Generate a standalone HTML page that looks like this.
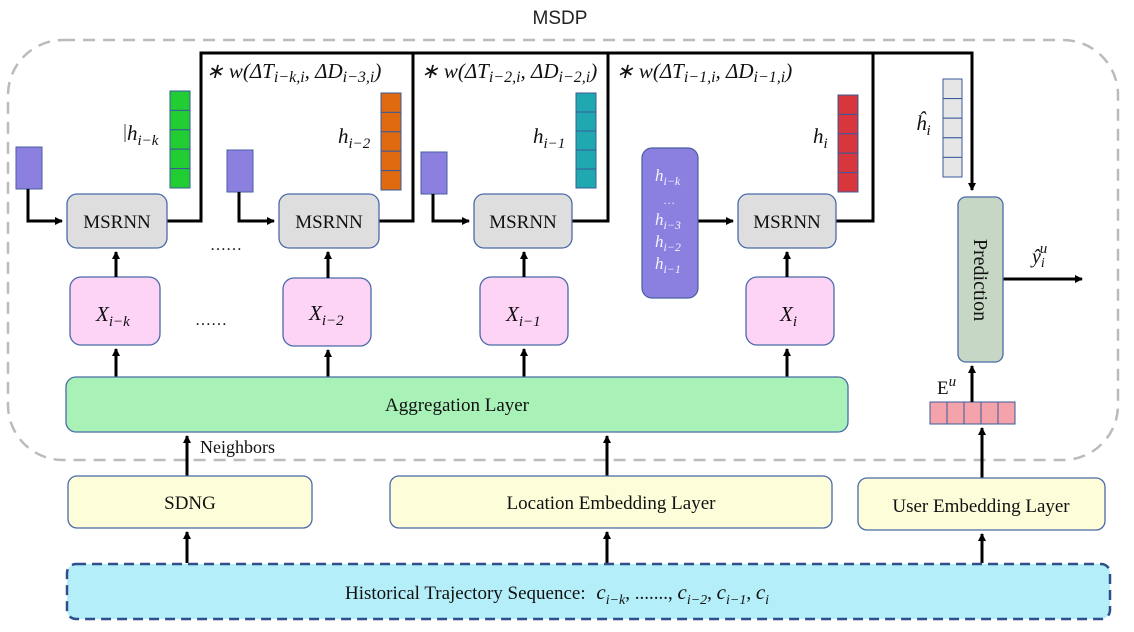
<!DOCTYPE html>
<html><head><meta charset="utf-8"><style>
html,body{margin:0;padding:0;background:#fff;}
svg{display:block;}
.t{font-family:"Liberation Serif",serif;fill:#111;}
.m{font-family:"Liberation Serif",serif;font-style:italic;fill:#111;}
.s{font-family:"Liberation Sans",sans-serif;fill:#222;}
</style></head><body>
<svg width="1134" height="632" viewBox="0 0 1134 632" xmlns="http://www.w3.org/2000/svg">
<defs>
<marker id="a" markerWidth="8" markerHeight="8" refX="7" refY="4" orient="auto" markerUnits="userSpaceOnUse"><path d="M0,0 L8,4 L0,8 z" fill="#000"/></marker>
</defs>
<rect x="8" y="40" width="1110" height="420" rx="55" fill="none" stroke="#bbb" stroke-width="2.5" stroke-dasharray="12,8"/>
<text x="560" y="24" class="s" font-size="19" text-anchor="middle">MSDP</text>

<g fill="none" stroke="#000" stroke-width="3">
<polyline points="167,221 201,221 201,53 413,53 413,221 379,221"/>
<polyline points="413,53 608,53 608,221 572,221"/>
<polyline points="608,53 873,53 873,221 836,221"/>
<polyline points="873,53 972,53 972,190" marker-end="url(#a)"/>
</g>
<text x="206" y="78" class="m" font-size="21">∗ w(ΔT<tspan font-size="16" dy="4">i−k,i</tspan><tspan dy="-4">, ΔD</tspan><tspan font-size="16" dy="4">i−3,i</tspan><tspan dy="-4">)</tspan></text>
<text x="421" y="78" class="m" font-size="21">∗ w(ΔT<tspan font-size="16" dy="4">i−2,i</tspan><tspan dy="-4">, ΔD</tspan><tspan font-size="16" dy="4">i−2,i</tspan><tspan dy="-4">)</tspan></text>
<text x="616" y="78" class="m" font-size="21">∗ w(ΔT<tspan font-size="16" dy="4">i−1,i</tspan><tspan dy="-4">, ΔD</tspan><tspan font-size="16" dy="4">i−1,i</tspan><tspan dy="-4">)</tspan></text>

<g fill="#8b7fe0" stroke="#4a5fa0" stroke-width="1">
<rect x="16" y="147" width="26" height="42"/>
<rect x="227" y="150" width="26" height="42"/>
<rect x="421" y="152" width="26" height="42"/>
</g>
<g fill="none" stroke="#000" stroke-width="3">
<polyline points="28,189 28,221 62,221" marker-end="url(#a)"/>
<polyline points="239,192 239,221 274,221" marker-end="url(#a)"/>
<polyline points="433,194 433,221 469,221" marker-end="url(#a)"/>
<line x1="698" y1="221" x2="733" y2="221" marker-end="url(#a)"/>
</g>

<g stroke="#3a5a9a" stroke-width="1">
<g fill="#22cc33"><rect x="170" y="91" width="20" height="19.4"/><rect x="170" y="110.4" width="20" height="19.4"/><rect x="170" y="129.8" width="20" height="19.4"/><rect x="170" y="149.2" width="20" height="19.4"/><rect x="170" y="168.6" width="20" height="19.4"/></g>
<g fill="#e06a10"><rect x="381" y="93" width="20" height="19.4"/><rect x="381" y="112.4" width="20" height="19.4"/><rect x="381" y="131.8" width="20" height="19.4"/><rect x="381" y="151.2" width="20" height="19.4"/><rect x="381" y="170.6" width="20" height="19.4"/></g>
<g fill="#20a8b0"><rect x="576" y="93" width="20" height="19"/><rect x="576" y="112" width="20" height="19"/><rect x="576" y="131" width="20" height="19"/><rect x="576" y="150" width="20" height="19"/><rect x="576" y="169" width="20" height="19"/></g>
<g fill="#d6363c"><rect x="838" y="95" width="20" height="19.4"/><rect x="838" y="114.4" width="20" height="19.4"/><rect x="838" y="133.8" width="20" height="19.4"/><rect x="838" y="153.2" width="20" height="19.4"/><rect x="838" y="172.6" width="20" height="19.4"/></g>
<g fill="#e6e6e6"><rect x="943" y="79" width="19" height="19.6"/><rect x="943" y="98.6" width="19" height="19.6"/><rect x="943" y="118.2" width="19" height="19.6"/><rect x="943" y="137.8" width="19" height="19.6"/><rect x="943" y="157.4" width="19" height="19.6"/></g>
<g fill="#f5a3aa"><rect x="930" y="402" width="17" height="22"/><rect x="947" y="402" width="17" height="22"/><rect x="964" y="402" width="17" height="22"/><rect x="981" y="402" width="17" height="22"/><rect x="998" y="402" width="17" height="22"/></g>
</g>
<line x1="125" y1="124" x2="125" y2="142" stroke="#444" stroke-width="1"/>
<text x="127" y="140" class="m" font-size="21">h<tspan font-size="15" dy="5">i−k</tspan></text>
<text x="338" y="143" class="m" font-size="21">h<tspan font-size="15" dy="5">i−2</tspan></text>
<text x="533" y="143" class="m" font-size="21">h<tspan font-size="15" dy="5">i−1</tspan></text>
<text x="813" y="143" class="m" font-size="21">h<tspan font-size="15" dy="5">i</tspan></text>
<text x="916" y="130" class="m" font-size="21">ĥ<tspan font-size="15" dy="5">i</tspan></text>

<g fill="#dedede" stroke="#4a6aa8" stroke-width="1.3">
<rect x="67" y="194" width="100" height="54" rx="10"/>
<rect x="279" y="194" width="100" height="54" rx="10"/>
<rect x="474" y="194" width="98" height="54" rx="10"/>
<rect x="738" y="194" width="98" height="54" rx="10"/>
</g>
<g class="t" font-size="19" text-anchor="middle">
<text x="117" y="228">MSRNN</text><text x="329" y="228">MSRNN</text><text x="523" y="228">MSRNN</text><text x="787" y="228">MSRNN</text>
</g>
<text x="210" y="250" class="t" font-size="16">……</text>
<text x="195" y="325" class="t" font-size="16">……</text>

<rect x="642" y="148" width="56" height="150" rx="10" fill="#8b7fe0" stroke="#4a5fa0" stroke-width="1.2"/>
<g class="m" font-size="17">
<text x="655" y="181" style="fill:#f4f4ff">h<tspan font-size="12" dy="4">i−k</tspan></text>
<text x="664" y="204" style="fill:#f4f4ff" font-size="12">…</text>
<text x="655" y="225" style="fill:#f4f4ff">h<tspan font-size="12" dy="4">i−3</tspan></text>
<text x="655" y="247" style="fill:#f4f4ff">h<tspan font-size="12" dy="4">i−2</tspan></text>
<text x="655" y="269" style="fill:#f4f4ff">h<tspan font-size="12" dy="4">i−1</tspan></text>
</g>

<g fill="#fdd3f6" stroke="#4a6aa8" stroke-width="1.3">
<rect x="70" y="277" width="90" height="68" rx="11"/>
<rect x="283" y="278" width="88" height="68" rx="11"/>
<rect x="480" y="277" width="88" height="68" rx="11"/>
<rect x="746" y="277" width="88" height="68" rx="11"/>
</g>
<g class="m" font-size="21">
<text x="96" y="321">X<tspan font-size="15" dy="5">i−k</tspan></text>
<text x="309" y="320">X<tspan font-size="15" dy="5">i−2</tspan></text>
<text x="506" y="321">X<tspan font-size="15" dy="5">i−1</tspan></text>
<text x="780" y="321">X<tspan font-size="15" dy="5">i</tspan></text>
</g>

<g stroke="#000" stroke-width="3" marker-end="url(#a)">
<line x1="116" y1="277" x2="116" y2="252"/><line x1="328" y1="278" x2="328" y2="252"/><line x1="524" y1="277" x2="524" y2="252"/><line x1="787" y1="277" x2="787" y2="252"/>
<line x1="116" y1="377" x2="116" y2="349"/><line x1="328" y1="377" x2="328" y2="350"/><line x1="524" y1="377" x2="524" y2="349"/><line x1="787" y1="377" x2="787" y2="349"/>
<line x1="187" y1="476" x2="187" y2="436"/><line x1="607" y1="476" x2="607" y2="436"/>
<line x1="187" y1="563" x2="187" y2="532"/><line x1="607" y1="563" x2="607" y2="532"/><line x1="982" y1="563" x2="982" y2="534"/>
<line x1="982" y1="478" x2="982" y2="428"/>
<line x1="972" y1="402" x2="972" y2="366"/>
<line x1="1003" y1="279" x2="1082" y2="279"/>
</g>

<rect x="66" y="377" width="782" height="55" rx="10" fill="#a8f2b8" stroke="#4a6aa8" stroke-width="1.3"/>
<text x="457" y="411" class="t" font-size="19" text-anchor="middle">Aggregation Layer</text>
<text x="200" y="453" class="t" font-size="18">Neighbors</text>

<rect x="958" y="197" width="45" height="165" rx="8" fill="#c6d7c6" stroke="#4a6aa8" stroke-width="1.3"/>
<text class="t" font-size="20" text-anchor="middle" transform="translate(974,280) rotate(90)">Prediction</text>
<text x="1032" y="263" class="m" font-size="20">ŷ<tspan font-size="14" dy="4">i</tspan><tspan font-size="15" dx="-5" dy="-14">u</tspan></text>
<text x="937" y="394" class="t" font-size="19">E<tspan class="m" font-size="15" dy="-8">u</tspan></text>

<g fill="#fdfdd9" stroke="#4a6aa8" stroke-width="1.3">
<rect x="68" y="476" width="244" height="52" rx="9"/>
<rect x="390" y="476" width="442" height="52" rx="9"/>
<rect x="858" y="478" width="247" height="52" rx="9"/>
</g>
<g class="t" font-size="19" text-anchor="middle">
<text x="190" y="509">SDNG</text><text x="611" y="509">Location Embedding Layer</text><text x="981" y="512">User Embedding Layer</text>
</g>

<rect x="67" y="564" width="1043" height="55" rx="9" fill="#b3eef9" stroke="#2f4f8a" stroke-width="2.5" stroke-dasharray="10,6"/>
<text x="345" y="599" class="t" font-size="19">Historical Trajectory Sequence: <tspan class="m" font-size="21" dx="6">c</tspan><tspan class="m" font-size="14" dy="5">i−k</tspan><tspan dy="-5">, ......., </tspan><tspan class="m" font-size="21">c</tspan><tspan class="m" font-size="14" dy="5">i−2</tspan><tspan dy="-5">, </tspan><tspan class="m" font-size="21">c</tspan><tspan class="m" font-size="14" dy="5">i−1</tspan><tspan dy="-5">, </tspan><tspan class="m" font-size="21">c</tspan><tspan class="m" font-size="14" dy="5">i</tspan></text>
</svg>
</body></html>
